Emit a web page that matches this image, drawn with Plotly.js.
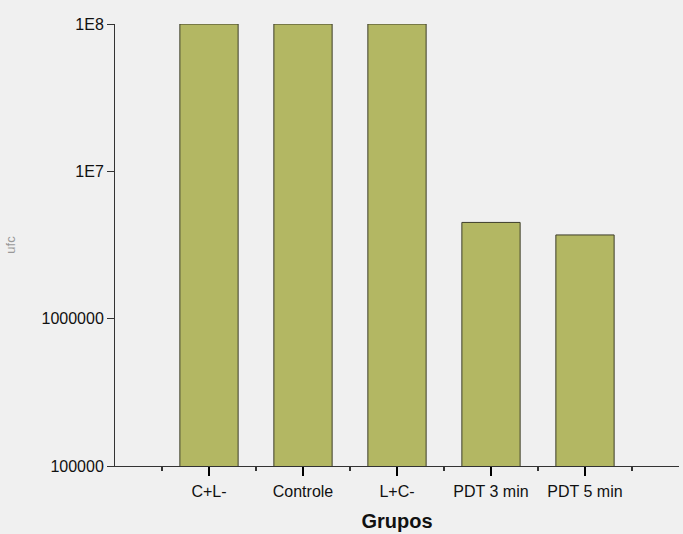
<!DOCTYPE html>
<html>
<head>
<meta charset="utf-8">
<script src="https://cdn.plot.ly/plotly-3.0.1.min.js"></script>
<style>html,body{margin:0;padding:0;background:#f0f0f0;}#chart{width:683px;height:534px;}</style>
</head>
<body>
<div id="chart"></div>
<script>
const categories = ["C+L-", "Controle", "L+C-", "PDT 3 min", "PDT 5 min"];
const ufcValues = [1e8, 1e8, 1e8, 4.5e6, 3.7e6];
const yTickVals = [1e5, 1e6, 1e7, 1e8];
const yTickText = ["100000", "1000000", "1E7", "1E8"];
const categoryPositions = categories.map((c, i) => i);

const data = [{
  type: "bar",
  x: categoryPositions,
  y: ufcValues,
  text: categories,
  width: 0.62,
  marker: {color: "#b3b763", line: {color: "#3d3d2a", width: 1}},
  hovertemplate: "%{text}: %{y}<extra></extra>",
  textposition: "none"
}];

const layout = {
  width: 683, height: 534,
  paper_bgcolor: "#f0f0f0", plot_bgcolor: "#f0f0f0",
  margin: {l: 115, r: 4, t: 24, b: 68},
  showlegend: false,
  font: {family: "Liberation Sans, Arial, sans-serif", color: "#111", size: 16},
  xaxis: {
    type: "linear", range: [-1, 5],
    layer: "above traces",
    showline: true, linecolor: "#333", linewidth: 1,
    tickmode: "array", tickvals: categoryPositions, ticktext: categories,
    ticks: "outside", ticklen: 9, tickwidth: 1.5, tickcolor: "#000000",
    minor: {ticks: "outside", ticklen: 4, tick0: -0.5, dtick: 1, tickcolor: "#333", showgrid: false},
    showgrid: false, zeroline: false,
    tickfont: {size: 16},
    ticklabelstandoff: 2,
    title: {text: "Grupos", font: {size: 20, weight: "bold", color: "#111"}, standoff: 14}
  },
  yaxis: {
    type: "log", range: [5, 8],
    layer: "above traces",
    showline: true, linecolor: "#333", linewidth: 1,
    ticks: "outside", ticklen: 7, tickcolor: "#333",
    tickmode: "array", tickvals: yTickVals, ticktext: yTickText,
    showgrid: false, zeroline: false,
    tickfont: {size: 16},
    title: {text: "ufc", font: {size: 13, color: "#999"}, standoff: 22}
  }
};

Plotly.newPlot("chart", data, layout, {displayModeBar: false});
</script>
</body>
</html>
